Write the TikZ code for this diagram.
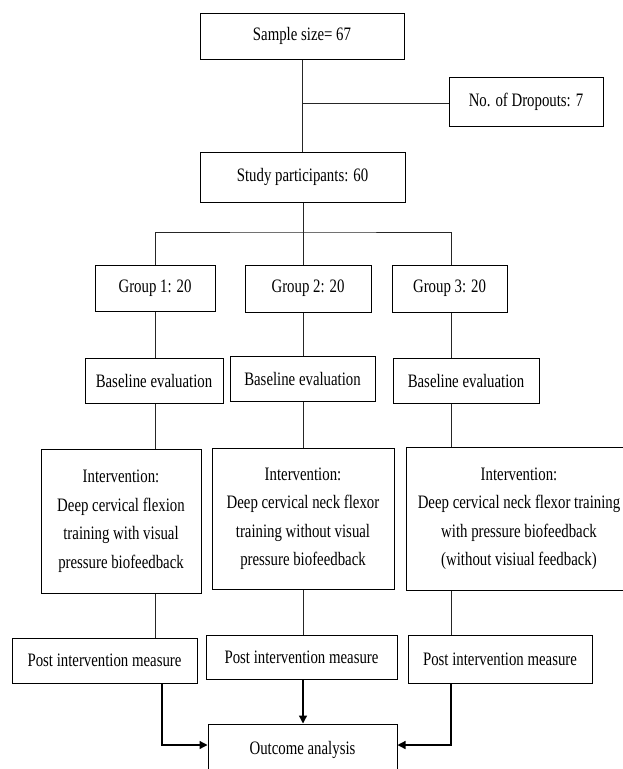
\documentclass[tikz,border=0pt]{standalone}
\usepackage{fontspec}
\setmainfont[FakeStretch=0.78]{Liberation Serif}
\usetikzlibrary{arrows.meta}
\begin{document}
\begin{tikzpicture}[x=1pt,y=-1pt,
  box/.style={draw=black,line width=1pt,inner sep=0pt,align=center,
    font=\fontsize{19}{28.5}\selectfont},
  conn/.style={draw=black!85,line width=0.8pt},
  arr/.style={draw=black,line width=1.3pt,-{Triangle[length=8pt,width=8pt]}}]
\useasboundingbox (0,0) rectangle (623,769);
% column coordinates
\coordinate (c1) at (155,0);
\coordinate (c2) at (303,0);
\coordinate (c3) at (451,0);
\coordinate (br) at (303,232);
\coordinate (dj) at (302,103);
\coordinate (a1) at (162,745);
\coordinate (a3) at (451,745);
% nodes
\node[box,minimum width=204pt,minimum height=46pt] (sample) at (302,36) {Sample size= 67};
\node[box,minimum width=154pt,minimum height=49pt] (drop) at (526,101.5) {No. of Dropouts: 7};
\node[box,minimum width=205pt,minimum height=50pt] (study) at (302.5,177) {Study participants: 60};
\node[box,minimum width=120pt,minimum height=46pt] (g1) at (155,288) {Group 1: 20};
\node[box,minimum width=126pt,minimum height=47pt] (g2) at (308,288.5) {Group 2: 20};
\node[box,minimum width=115pt,minimum height=47pt] (g3) at (449.5,288.5) {Group 3: 20};
\node[box,minimum width=138pt,minimum height=45pt] (b1) at (154,380.5) {Baseline evaluation};
\node[box,minimum width=145pt,minimum height=45pt] (b2) at (302.5,378.5) {Baseline evaluation};
\node[box,minimum width=146pt,minimum height=45pt] (b3) at (466,380.5) {Baseline evaluation};
\node[box,minimum width=160pt,minimum height=144pt] (i1) at (121,521) {Intervention:\\Deep cervical flexion\\training with visual\\pressure biofeedback};
\node[box,minimum width=182pt,minimum height=141pt] (i2) at (303,518.5) {Intervention:\\Deep cervical neck flexor\\training without visual\\pressure biofeedback};
\node[box,minimum width=226pt,minimum height=143pt] (i3) at (519,518.5) {Intervention:\\Deep cervical neck flexor training\\with pressure biofeedback\\(without visiual feedback)};
\node[box,minimum width=185pt,minimum height=45pt] (p1) at (104.5,660.5) {Post intervention measure};
\node[box,minimum width=191pt,minimum height=44pt] (p2) at (301.5,657) {Post intervention measure};
\node[box,minimum width=184pt,minimum height=48pt] (p3) at (500,659) {Post intervention measure};
\node[box,minimum width=189pt,minimum height=52pt] (out) at (302.5,750) {\raisebox{5pt}{Outcome analysis}};
% connectors
\draw[conn] (sample.south -| dj) -- (study.north -| dj);
\draw[conn] (dj) -- (drop.west |- dj);
\draw[conn] (study.south -| br) -- (br);
\draw[conn] (g1.north -| c1) |- (br) -| (g3.north -| c3);
\draw[conn] (br) -- (g2.north -| c2);
\draw[conn] (g1.south -| c1) -- (b1.north -| c1);
\draw[conn] (g2.south -| c2) -- (b2.north -| c2);
\draw[conn] (g3.south -| c3) -- (b3.north -| c3);
\draw[conn] (b1.south -| c1) -- (i1.north -| c1);
\draw[conn] (b2.south -| c2) -- (i2.north -| c2);
\draw[conn] (b3.south -| c3) -- (i3.north -| c3);
\draw[conn] (i1.south -| c1) -- (p1.north -| c1);
\draw[conn] (i2.south -| c2) -- (p2.north -| c2);
\draw[conn] (i3.south -| c3) -- (p3.north -| c3);
\draw[arr] (p1.south -| a1) -- (a1) -- (out.west |- a1);
\draw[arr] (p2.south -| c2) -- (out.north -| c2);
\draw[arr] (p3.south -| a3) -- (a3) -- (out.east |- a3);
\end{tikzpicture}
\end{document}
